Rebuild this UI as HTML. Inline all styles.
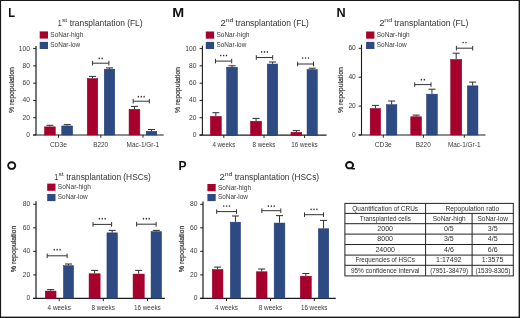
<!DOCTYPE html>
<html><head><meta charset="utf-8"><style>
html,body{margin:0;padding:0;background:#fff;}
svg{display:block;font-family:"Liberation Sans", sans-serif;}
.t{filter:grayscale(1);}
</style></head><body>
<svg width="520" height="318" viewBox="0 0 520 318">
<rect width="520" height="318" fill="#fff"/>
<line x1="36.0" y1="46.0" x2="36.0" y2="135.0" stroke="#1c1c1c" stroke-width="1.2"/>
<line x1="33.0" y1="135.0" x2="163.7" y2="135.0" stroke="#1c1c1c" stroke-width="1.2"/>
<line x1="33.2" y1="135.0" x2="36.0" y2="135.0" stroke="#1c1c1c" stroke-width="1.0"/>
<line x1="33.2" y1="117.72" x2="36.0" y2="117.72" stroke="#1c1c1c" stroke-width="1.0"/>
<line x1="33.2" y1="100.44" x2="36.0" y2="100.44" stroke="#1c1c1c" stroke-width="1.0"/>
<line x1="33.2" y1="83.16" x2="36.0" y2="83.16" stroke="#1c1c1c" stroke-width="1.0"/>
<line x1="33.2" y1="65.88" x2="36.0" y2="65.88" stroke="#1c1c1c" stroke-width="1.0"/>
<line x1="33.2" y1="48.6" x2="36.0" y2="48.6" stroke="#1c1c1c" stroke-width="1.0"/>
<rect x="44.45" y="126.85" width="10.90" height="8.15" fill="#A7002D" stroke="#930028" stroke-width="0.5"/>
<line x1="49.9" y1="125.3" x2="49.9" y2="126.6" stroke="#333" stroke-width="1.0"/>
<line x1="46.4" y1="125.3" x2="53.4" y2="125.3" stroke="#333" stroke-width="1.05"/>
<rect x="61.75" y="125.95" width="10.90" height="9.05" fill="#2D4A82" stroke="#1F3976" stroke-width="0.5"/>
<line x1="67.2" y1="124.6" x2="67.2" y2="125.7" stroke="#333" stroke-width="1.0"/>
<line x1="63.7" y1="124.6" x2="70.7" y2="124.6" stroke="#333" stroke-width="1.05"/>
<line x1="58.5" y1="135.0" x2="58.5" y2="137.7" stroke="#1c1c1c" stroke-width="1.0"/>
<rect x="87.25" y="78.55" width="10.50" height="56.45" fill="#A7002D" stroke="#930028" stroke-width="0.5"/>
<line x1="92.5" y1="76.4" x2="92.5" y2="78.3" stroke="#333" stroke-width="1.0"/>
<line x1="89.0" y1="76.4" x2="96.0" y2="76.4" stroke="#333" stroke-width="1.05"/>
<rect x="104.25" y="69.15" width="10.50" height="65.85" fill="#2D4A82" stroke="#1F3976" stroke-width="0.5"/>
<line x1="109.5" y1="67.9" x2="109.5" y2="68.9" stroke="#333" stroke-width="1.0"/>
<line x1="106.0" y1="67.9" x2="113.0" y2="67.9" stroke="#333" stroke-width="1.05"/>
<line x1="100.8" y1="135.0" x2="100.8" y2="137.7" stroke="#1c1c1c" stroke-width="1.0"/>
<line x1="92.6" y1="63.2" x2="108.9" y2="63.2" stroke="#333" stroke-width="1.0"/>
<line x1="92.6" y1="60.9" x2="92.6" y2="65.5" stroke="#333" stroke-width="1.0"/>
<line x1="108.9" y1="60.9" x2="108.9" y2="65.5" stroke="#333" stroke-width="1.0"/>
<ellipse cx="99.30" cy="58.40" rx="0.75" ry="0.85" fill="#333"/>
<ellipse cx="102.20" cy="58.40" rx="0.75" ry="0.85" fill="#333"/>
<rect x="129.05" y="109.25" width="10.80" height="25.75" fill="#A7002D" stroke="#930028" stroke-width="0.5"/>
<line x1="134.45" y1="106.4" x2="134.45" y2="109" stroke="#333" stroke-width="1.0"/>
<line x1="130.95" y1="106.4" x2="137.95" y2="106.4" stroke="#333" stroke-width="1.05"/>
<rect x="146.25" y="131.25" width="10.50" height="3.75" fill="#2D4A82" stroke="#1F3976" stroke-width="0.5"/>
<line x1="151.5" y1="129.5" x2="151.5" y2="131" stroke="#333" stroke-width="1.0"/>
<line x1="148.0" y1="129.5" x2="155.0" y2="129.5" stroke="#333" stroke-width="1.05"/>
<line x1="143" y1="135.0" x2="143" y2="137.7" stroke="#1c1c1c" stroke-width="1.0"/>
<line x1="133.2" y1="101.2" x2="149.3" y2="101.2" stroke="#333" stroke-width="1.0"/>
<line x1="133.2" y1="98.9" x2="133.2" y2="103.5" stroke="#333" stroke-width="1.0"/>
<line x1="149.3" y1="98.9" x2="149.3" y2="103.5" stroke="#333" stroke-width="1.0"/>
<ellipse cx="138.35" cy="96.70" rx="0.75" ry="0.85" fill="#333"/>
<ellipse cx="141.25" cy="96.70" rx="0.75" ry="0.85" fill="#333"/>
<ellipse cx="144.15" cy="96.70" rx="0.75" ry="0.85" fill="#333"/>
<rect x="39.7" y="31.4" width="8.3" height="7.2" fill="#A7002D"/>
<rect x="39.7" y="41.9" width="8.3" height="7.1" fill="#2D4A82"/>
<line x1="202.4" y1="45.8" x2="202.4" y2="135.2" stroke="#1c1c1c" stroke-width="1.1"/>
<line x1="199.5" y1="135.2" x2="326.6" y2="135.2" stroke="#1c1c1c" stroke-width="1.2"/>
<line x1="199.6" y1="135.0" x2="202.4" y2="135.0" stroke="#1c1c1c" stroke-width="1.0"/>
<line x1="199.6" y1="117.72" x2="202.4" y2="117.72" stroke="#1c1c1c" stroke-width="1.0"/>
<line x1="199.6" y1="100.44" x2="202.4" y2="100.44" stroke="#1c1c1c" stroke-width="1.0"/>
<line x1="199.6" y1="83.16" x2="202.4" y2="83.16" stroke="#1c1c1c" stroke-width="1.0"/>
<line x1="199.6" y1="65.88" x2="202.4" y2="65.88" stroke="#1c1c1c" stroke-width="1.0"/>
<line x1="199.6" y1="48.6" x2="202.4" y2="48.6" stroke="#1c1c1c" stroke-width="1.0"/>
<rect x="210.35" y="116.35" width="11.00" height="18.85" fill="#A7002D" stroke="#930028" stroke-width="0.5"/>
<line x1="215.85" y1="112.7" x2="215.85" y2="116.1" stroke="#333" stroke-width="1.0"/>
<line x1="212.35" y1="112.7" x2="219.35" y2="112.7" stroke="#333" stroke-width="1.05"/>
<rect x="226.65" y="67.25" width="10.80" height="67.95" fill="#2D4A82" stroke="#1F3976" stroke-width="0.5"/>
<line x1="232.05" y1="65.8" x2="232.05" y2="67" stroke="#333" stroke-width="1.0"/>
<line x1="228.55" y1="65.8" x2="235.55" y2="65.8" stroke="#333" stroke-width="1.05"/>
<line x1="223.8" y1="135.2" x2="223.8" y2="137.9" stroke="#1c1c1c" stroke-width="1.0"/>
<line x1="215.5" y1="61.1" x2="231.7" y2="61.1" stroke="#333" stroke-width="1.0"/>
<line x1="215.5" y1="58.8" x2="215.5" y2="63.4" stroke="#333" stroke-width="1.0"/>
<line x1="231.7" y1="58.8" x2="231.7" y2="63.4" stroke="#333" stroke-width="1.0"/>
<ellipse cx="220.70" cy="55.50" rx="0.75" ry="0.85" fill="#333"/>
<ellipse cx="223.60" cy="55.50" rx="0.75" ry="0.85" fill="#333"/>
<ellipse cx="226.50" cy="55.50" rx="0.75" ry="0.85" fill="#333"/>
<rect x="250.45" y="121.25" width="11.20" height="13.95" fill="#A7002D" stroke="#930028" stroke-width="0.5"/>
<line x1="256.05" y1="118.4" x2="256.05" y2="121.0" stroke="#333" stroke-width="1.0"/>
<line x1="252.55" y1="118.4" x2="259.55" y2="118.4" stroke="#333" stroke-width="1.05"/>
<rect x="267.25" y="64.05" width="10.50" height="71.15" fill="#2D4A82" stroke="#1F3976" stroke-width="0.5"/>
<line x1="272.5" y1="62" x2="272.5" y2="63.8" stroke="#333" stroke-width="1.0"/>
<line x1="269.0" y1="62" x2="276.0" y2="62" stroke="#333" stroke-width="1.05"/>
<line x1="264" y1="135.2" x2="264" y2="137.9" stroke="#1c1c1c" stroke-width="1.0"/>
<line x1="256.3" y1="57.5" x2="272.7" y2="57.5" stroke="#333" stroke-width="1.0"/>
<line x1="256.3" y1="55.2" x2="256.3" y2="59.8" stroke="#333" stroke-width="1.0"/>
<line x1="272.7" y1="55.2" x2="272.7" y2="59.8" stroke="#333" stroke-width="1.0"/>
<ellipse cx="261.60" cy="51.90" rx="0.75" ry="0.85" fill="#333"/>
<ellipse cx="264.50" cy="51.90" rx="0.75" ry="0.85" fill="#333"/>
<ellipse cx="267.40" cy="51.90" rx="0.75" ry="0.85" fill="#333"/>
<rect x="290.95" y="132.25" width="10.80" height="2.95" fill="#A7002D" stroke="#930028" stroke-width="0.5"/>
<line x1="296.35" y1="130.6" x2="296.35" y2="132" stroke="#333" stroke-width="1.0"/>
<line x1="292.85" y1="130.6" x2="299.85" y2="130.6" stroke="#333" stroke-width="1.05"/>
<rect x="307.05" y="69.55" width="10.30" height="65.65" fill="#2D4A82" stroke="#1F3976" stroke-width="0.5"/>
<line x1="312.2" y1="68.2" x2="312.2" y2="69.3" stroke="#333" stroke-width="1.0"/>
<line x1="308.7" y1="68.2" x2="315.7" y2="68.2" stroke="#333" stroke-width="1.05"/>
<line x1="304.6" y1="135.2" x2="304.6" y2="137.9" stroke="#1c1c1c" stroke-width="1.0"/>
<line x1="297.6" y1="64.0" x2="313.5" y2="64.0" stroke="#333" stroke-width="1.0"/>
<line x1="297.6" y1="61.7" x2="297.6" y2="66.3" stroke="#333" stroke-width="1.0"/>
<line x1="313.5" y1="61.7" x2="313.5" y2="66.3" stroke="#333" stroke-width="1.0"/>
<ellipse cx="302.65" cy="58.00" rx="0.75" ry="0.85" fill="#333"/>
<ellipse cx="305.55" cy="58.00" rx="0.75" ry="0.85" fill="#333"/>
<ellipse cx="308.45" cy="58.00" rx="0.75" ry="0.85" fill="#333"/>
<rect x="205.8" y="31.5" width="8.3" height="7.2" fill="#A7002D"/>
<rect x="205.8" y="41.9" width="8.3" height="7.1" fill="#2D4A82"/>
<line x1="361.5" y1="44.7" x2="361.5" y2="135.0" stroke="#1c1c1c" stroke-width="1.1"/>
<line x1="358.6" y1="135.0" x2="485.5" y2="135.0" stroke="#1c1c1c" stroke-width="1.2"/>
<line x1="358.7" y1="135.0" x2="361.5" y2="135.0" stroke="#1c1c1c" stroke-width="1.0"/>
<line x1="358.7" y1="106.1" x2="361.5" y2="106.1" stroke="#1c1c1c" stroke-width="1.0"/>
<line x1="358.7" y1="77.2" x2="361.5" y2="77.2" stroke="#1c1c1c" stroke-width="1.0"/>
<line x1="358.7" y1="48.3" x2="361.5" y2="48.3" stroke="#1c1c1c" stroke-width="1.0"/>
<rect x="370.15" y="108.45" width="10.50" height="26.55" fill="#A7002D" stroke="#930028" stroke-width="0.5"/>
<line x1="375.4" y1="105.4" x2="375.4" y2="108.2" stroke="#333" stroke-width="1.0"/>
<line x1="371.9" y1="105.4" x2="378.9" y2="105.4" stroke="#333" stroke-width="1.05"/>
<rect x="386.45" y="104.65" width="10.40" height="30.35" fill="#2D4A82" stroke="#1F3976" stroke-width="0.5"/>
<line x1="391.65" y1="101.0" x2="391.65" y2="104.4" stroke="#333" stroke-width="1.0"/>
<line x1="388.15" y1="101.0" x2="395.15" y2="101.0" stroke="#333" stroke-width="1.05"/>
<line x1="383.3" y1="135.0" x2="383.3" y2="137.7" stroke="#1c1c1c" stroke-width="1.0"/>
<rect x="410.75" y="116.75" width="10.80" height="18.25" fill="#A7002D" stroke="#930028" stroke-width="0.5"/>
<line x1="416.15" y1="115.1" x2="416.15" y2="116.5" stroke="#333" stroke-width="1.0"/>
<line x1="412.65" y1="115.1" x2="419.65" y2="115.1" stroke="#333" stroke-width="1.05"/>
<rect x="426.55" y="94.15" width="10.80" height="40.85" fill="#2D4A82" stroke="#1F3976" stroke-width="0.5"/>
<line x1="431.95" y1="89.2" x2="431.95" y2="93.9" stroke="#333" stroke-width="1.0"/>
<line x1="428.45" y1="89.2" x2="435.45" y2="89.2" stroke="#333" stroke-width="1.05"/>
<line x1="423.4" y1="135.0" x2="423.4" y2="137.7" stroke="#1c1c1c" stroke-width="1.0"/>
<line x1="414.7" y1="84.6" x2="431" y2="84.6" stroke="#333" stroke-width="1.0"/>
<line x1="414.7" y1="82.3" x2="414.7" y2="86.9" stroke="#333" stroke-width="1.0"/>
<line x1="431" y1="82.3" x2="431" y2="86.9" stroke="#333" stroke-width="1.0"/>
<ellipse cx="421.40" cy="79.70" rx="0.75" ry="0.85" fill="#333"/>
<ellipse cx="424.30" cy="79.70" rx="0.75" ry="0.85" fill="#333"/>
<rect x="450.65" y="59.45" width="11.10" height="75.55" fill="#A7002D" stroke="#930028" stroke-width="0.5"/>
<line x1="456.2" y1="53.2" x2="456.2" y2="59.2" stroke="#333" stroke-width="1.0"/>
<line x1="452.7" y1="53.2" x2="459.7" y2="53.2" stroke="#333" stroke-width="1.05"/>
<rect x="467.35" y="85.85" width="10.60" height="49.15" fill="#2D4A82" stroke="#1F3976" stroke-width="0.5"/>
<line x1="472.65" y1="82.1" x2="472.65" y2="85.6" stroke="#333" stroke-width="1.0"/>
<line x1="469.15" y1="82.1" x2="476.15" y2="82.1" stroke="#333" stroke-width="1.05"/>
<line x1="464.3" y1="135.0" x2="464.3" y2="137.7" stroke="#1c1c1c" stroke-width="1.0"/>
<line x1="456.4" y1="48.2" x2="472.7" y2="48.2" stroke="#333" stroke-width="1.0"/>
<line x1="456.4" y1="45.9" x2="456.4" y2="50.5" stroke="#333" stroke-width="1.0"/>
<line x1="472.7" y1="45.9" x2="472.7" y2="50.5" stroke="#333" stroke-width="1.0"/>
<ellipse cx="463.10" cy="42.50" rx="0.75" ry="0.85" fill="#333"/>
<ellipse cx="466.00" cy="42.50" rx="0.75" ry="0.85" fill="#333"/>
<rect x="366.1" y="31.5" width="8.3" height="7.2" fill="#A7002D"/>
<rect x="366.1" y="41.9" width="8.3" height="7.1" fill="#2D4A82"/>
<line x1="36.0" y1="201.2" x2="36.0" y2="298.4" stroke="#1c1c1c" stroke-width="1.2"/>
<line x1="33.0" y1="298.4" x2="164.9" y2="298.4" stroke="#1c1c1c" stroke-width="1.2"/>
<line x1="33.2" y1="298.4" x2="36.0" y2="298.4" stroke="#1c1c1c" stroke-width="1.0"/>
<line x1="33.2" y1="274.88" x2="36.0" y2="274.88" stroke="#1c1c1c" stroke-width="1.0"/>
<line x1="33.2" y1="251.36" x2="36.0" y2="251.36" stroke="#1c1c1c" stroke-width="1.0"/>
<line x1="33.2" y1="227.84" x2="36.0" y2="227.84" stroke="#1c1c1c" stroke-width="1.0"/>
<line x1="33.2" y1="204.32" x2="36.0" y2="204.32" stroke="#1c1c1c" stroke-width="1.0"/>
<rect x="45.25" y="291.05" width="10.80" height="7.35" fill="#A7002D" stroke="#930028" stroke-width="0.5"/>
<line x1="50.65" y1="289.6" x2="50.65" y2="290.8" stroke="#333" stroke-width="1.0"/>
<line x1="47.15" y1="289.6" x2="54.15" y2="289.6" stroke="#333" stroke-width="1.05"/>
<rect x="63.45" y="265.65" width="10.10" height="32.75" fill="#2D4A82" stroke="#1F3976" stroke-width="0.5"/>
<line x1="68.5" y1="264" x2="68.5" y2="265.4" stroke="#333" stroke-width="1.0"/>
<line x1="65.0" y1="264" x2="72.0" y2="264" stroke="#333" stroke-width="1.05"/>
<line x1="59.2" y1="298.4" x2="59.2" y2="301.1" stroke="#1c1c1c" stroke-width="1.0"/>
<line x1="47.2" y1="255.8" x2="67.1" y2="255.8" stroke="#333" stroke-width="1.0"/>
<line x1="47.2" y1="253.5" x2="47.2" y2="258.1" stroke="#333" stroke-width="1.0"/>
<line x1="67.1" y1="253.5" x2="67.1" y2="258.1" stroke="#333" stroke-width="1.0"/>
<ellipse cx="54.25" cy="249.70" rx="0.75" ry="0.85" fill="#333"/>
<ellipse cx="57.15" cy="249.70" rx="0.75" ry="0.85" fill="#333"/>
<ellipse cx="60.05" cy="249.70" rx="0.75" ry="0.85" fill="#333"/>
<rect x="89.05" y="273.75" width="11.10" height="24.65" fill="#A7002D" stroke="#930028" stroke-width="0.5"/>
<line x1="94.6" y1="270.4" x2="94.6" y2="273.5" stroke="#333" stroke-width="1.0"/>
<line x1="91.1" y1="270.4" x2="98.1" y2="270.4" stroke="#333" stroke-width="1.05"/>
<rect x="106.95" y="232.85" width="10.50" height="65.55" fill="#2D4A82" stroke="#1F3976" stroke-width="0.5"/>
<line x1="112.2" y1="230.4" x2="112.2" y2="232.6" stroke="#333" stroke-width="1.0"/>
<line x1="108.7" y1="230.4" x2="115.7" y2="230.4" stroke="#333" stroke-width="1.05"/>
<line x1="103.3" y1="298.4" x2="103.3" y2="301.1" stroke="#1c1c1c" stroke-width="1.0"/>
<line x1="93.0" y1="224.4" x2="111.6" y2="224.4" stroke="#333" stroke-width="1.0"/>
<line x1="93.0" y1="222.1" x2="93.0" y2="226.7" stroke="#333" stroke-width="1.0"/>
<line x1="111.6" y1="222.1" x2="111.6" y2="226.7" stroke="#333" stroke-width="1.0"/>
<ellipse cx="99.40" cy="218.70" rx="0.75" ry="0.85" fill="#333"/>
<ellipse cx="102.30" cy="218.70" rx="0.75" ry="0.85" fill="#333"/>
<ellipse cx="105.20" cy="218.70" rx="0.75" ry="0.85" fill="#333"/>
<rect x="133.05" y="274.05" width="11.20" height="24.35" fill="#A7002D" stroke="#930028" stroke-width="0.5"/>
<line x1="138.65" y1="270.4" x2="138.65" y2="273.8" stroke="#333" stroke-width="1.0"/>
<line x1="135.15" y1="270.4" x2="142.15" y2="270.4" stroke="#333" stroke-width="1.05"/>
<rect x="151.05" y="231.65" width="10.50" height="66.75" fill="#2D4A82" stroke="#1F3976" stroke-width="0.5"/>
<line x1="156.3" y1="230.4" x2="156.3" y2="231.4" stroke="#333" stroke-width="1.0"/>
<line x1="152.8" y1="230.4" x2="159.8" y2="230.4" stroke="#333" stroke-width="1.05"/>
<line x1="147.5" y1="298.4" x2="147.5" y2="301.1" stroke="#1c1c1c" stroke-width="1.0"/>
<line x1="136.6" y1="224.2" x2="156.1" y2="224.2" stroke="#333" stroke-width="1.0"/>
<line x1="136.6" y1="221.9" x2="136.6" y2="226.5" stroke="#333" stroke-width="1.0"/>
<line x1="156.1" y1="221.9" x2="156.1" y2="226.5" stroke="#333" stroke-width="1.0"/>
<ellipse cx="143.45" cy="218.70" rx="0.75" ry="0.85" fill="#333"/>
<ellipse cx="146.35" cy="218.70" rx="0.75" ry="0.85" fill="#333"/>
<ellipse cx="149.25" cy="218.70" rx="0.75" ry="0.85" fill="#333"/>
<rect x="47.2" y="183.6" width="8.3" height="7.2" fill="#A7002D"/>
<rect x="47.2" y="194.0" width="8.3" height="7.1" fill="#2D4A82"/>
<ellipse cx="11.7" cy="165.6" rx="3.55" ry="3.3" fill="none" stroke="#111" stroke-width="1.9"/>
<line x1="203.0" y1="201.4" x2="203.0" y2="298.3" stroke="#1c1c1c" stroke-width="1.2"/>
<line x1="199.9" y1="298.3" x2="335.8" y2="298.3" stroke="#1c1c1c" stroke-width="1.2"/>
<line x1="200.2" y1="298.4" x2="203.0" y2="298.4" stroke="#1c1c1c" stroke-width="1.0"/>
<line x1="200.2" y1="274.88" x2="203.0" y2="274.88" stroke="#1c1c1c" stroke-width="1.0"/>
<line x1="200.2" y1="251.36" x2="203.0" y2="251.36" stroke="#1c1c1c" stroke-width="1.0"/>
<line x1="200.2" y1="227.84" x2="203.0" y2="227.84" stroke="#1c1c1c" stroke-width="1.0"/>
<line x1="200.2" y1="204.32" x2="203.0" y2="204.32" stroke="#1c1c1c" stroke-width="1.0"/>
<rect x="212.25" y="269.45" width="10.70" height="28.85" fill="#A7002D" stroke="#930028" stroke-width="0.5"/>
<line x1="217.6" y1="267.1" x2="217.6" y2="269.2" stroke="#333" stroke-width="1.0"/>
<line x1="214.1" y1="267.1" x2="221.1" y2="267.1" stroke="#333" stroke-width="1.05"/>
<rect x="230.35" y="222.15" width="10.20" height="76.15" fill="#2D4A82" stroke="#1F3976" stroke-width="0.5"/>
<line x1="235.45" y1="216" x2="235.45" y2="221.9" stroke="#333" stroke-width="1.0"/>
<line x1="231.95" y1="216" x2="238.95" y2="216" stroke="#333" stroke-width="1.05"/>
<line x1="226.5" y1="298.3" x2="226.5" y2="301.0" stroke="#1c1c1c" stroke-width="1.0"/>
<line x1="216.7" y1="211.6" x2="236.5" y2="211.6" stroke="#333" stroke-width="1.0"/>
<line x1="216.7" y1="209.3" x2="216.7" y2="213.9" stroke="#333" stroke-width="1.0"/>
<line x1="236.5" y1="209.3" x2="236.5" y2="213.9" stroke="#333" stroke-width="1.0"/>
<ellipse cx="223.70" cy="206.00" rx="0.75" ry="0.85" fill="#333"/>
<ellipse cx="226.60" cy="206.00" rx="0.75" ry="0.85" fill="#333"/>
<ellipse cx="229.50" cy="206.00" rx="0.75" ry="0.85" fill="#333"/>
<rect x="256.35" y="271.75" width="10.70" height="26.55" fill="#A7002D" stroke="#930028" stroke-width="0.5"/>
<line x1="261.7" y1="269" x2="261.7" y2="271.5" stroke="#333" stroke-width="1.0"/>
<line x1="258.2" y1="269" x2="265.2" y2="269" stroke="#333" stroke-width="1.05"/>
<rect x="274.15" y="223.05" width="10.70" height="75.25" fill="#2D4A82" stroke="#1F3976" stroke-width="0.5"/>
<line x1="279.5" y1="215.6" x2="279.5" y2="222.8" stroke="#333" stroke-width="1.0"/>
<line x1="276.0" y1="215.6" x2="283.0" y2="215.6" stroke="#333" stroke-width="1.05"/>
<line x1="270.5" y1="298.3" x2="270.5" y2="301.0" stroke="#1c1c1c" stroke-width="1.0"/>
<line x1="261.8" y1="210.7" x2="280.8" y2="210.7" stroke="#333" stroke-width="1.0"/>
<line x1="261.8" y1="208.4" x2="261.8" y2="213.0" stroke="#333" stroke-width="1.0"/>
<line x1="280.8" y1="208.4" x2="280.8" y2="213.0" stroke="#333" stroke-width="1.0"/>
<ellipse cx="268.40" cy="206.10" rx="0.75" ry="0.85" fill="#333"/>
<ellipse cx="271.30" cy="206.10" rx="0.75" ry="0.85" fill="#333"/>
<ellipse cx="274.20" cy="206.10" rx="0.75" ry="0.85" fill="#333"/>
<rect x="300.25" y="276.15" width="11.10" height="22.15" fill="#A7002D" stroke="#930028" stroke-width="0.5"/>
<line x1="305.8" y1="273.5" x2="305.8" y2="275.9" stroke="#333" stroke-width="1.0"/>
<line x1="302.3" y1="273.5" x2="309.3" y2="273.5" stroke="#333" stroke-width="1.05"/>
<rect x="318.35" y="228.75" width="10.40" height="69.55" fill="#2D4A82" stroke="#1F3976" stroke-width="0.5"/>
<line x1="323.55" y1="220.4" x2="323.55" y2="228.5" stroke="#333" stroke-width="1.0"/>
<line x1="320.05" y1="220.4" x2="327.05" y2="220.4" stroke="#333" stroke-width="1.05"/>
<line x1="314.3" y1="298.3" x2="314.3" y2="301.0" stroke="#1c1c1c" stroke-width="1.0"/>
<line x1="304.5" y1="214.7" x2="323.5" y2="214.7" stroke="#333" stroke-width="1.0"/>
<line x1="304.5" y1="212.4" x2="304.5" y2="217.0" stroke="#333" stroke-width="1.0"/>
<line x1="323.5" y1="212.4" x2="323.5" y2="217.0" stroke="#333" stroke-width="1.0"/>
<ellipse cx="311.10" cy="209.30" rx="0.75" ry="0.85" fill="#333"/>
<ellipse cx="314.00" cy="209.30" rx="0.75" ry="0.85" fill="#333"/>
<ellipse cx="316.90" cy="209.30" rx="0.75" ry="0.85" fill="#333"/>
<rect x="207.4" y="184.0" width="8.3" height="7.2" fill="#A7002D"/>
<rect x="207.4" y="194.0" width="8.3" height="7.1" fill="#2D4A82"/>
<rect x="344.9" y="203.4" width="168.40" height="72.50" fill="none" stroke="#222" stroke-width="1.0"/>
<line x1="344.9" y1="213.4" x2="513.3" y2="213.4" stroke="#222" stroke-width="1.0"/>
<line x1="344.9" y1="223.7" x2="513.3" y2="223.7" stroke="#222" stroke-width="1.0"/>
<line x1="344.9" y1="234.1" x2="513.3" y2="234.1" stroke="#222" stroke-width="1.0"/>
<line x1="344.9" y1="244.5" x2="513.3" y2="244.5" stroke="#222" stroke-width="1.0"/>
<line x1="344.9" y1="255.1" x2="513.3" y2="255.1" stroke="#222" stroke-width="1.0"/>
<line x1="344.9" y1="265.3" x2="513.3" y2="265.3" stroke="#222" stroke-width="1.0"/>
<line x1="425.6" y1="203.4" x2="425.6" y2="275.9" stroke="#222" stroke-width="1.0"/>
<line x1="472.1" y1="213.4" x2="472.1" y2="275.9" stroke="#222" stroke-width="1.0"/>
<ellipse cx="349.55" cy="165.2" rx="3.5" ry="3.2" fill="none" stroke="#111" stroke-width="1.9"/>
<path d="M351.6 168.7 L355 168.8" stroke="#111" stroke-width="1.4"/>
<rect x="0" y="0" width="1.1" height="318" fill="#1a1a1a"/>
<rect x="0" y="0" width="520" height="1" fill="#1a1a1a"/>
<rect x="518.6" y="0" width="1.4" height="318" fill="#1a1a1a"/>
<rect x="0" y="316.6" width="520" height="1.4" fill="#1a1a1a"/>
<g class="t"><text x="26.32" y="136.9" font-size="6.7" fill="#3a3a3a" textLength="3.73" lengthAdjust="spacingAndGlyphs">0</text>
<text x="22.60" y="119.62" font-size="6.7" fill="#3a3a3a" textLength="7.45" lengthAdjust="spacingAndGlyphs">20</text>
<text x="22.60" y="102.34" font-size="6.7" fill="#3a3a3a" textLength="7.45" lengthAdjust="spacingAndGlyphs">40</text>
<text x="22.60" y="85.06" font-size="6.7" fill="#3a3a3a" textLength="7.45" lengthAdjust="spacingAndGlyphs">60</text>
<text x="22.60" y="67.78" font-size="6.7" fill="#3a3a3a" textLength="7.45" lengthAdjust="spacingAndGlyphs">80</text>
<text x="18.88" y="50.5" font-size="6.7" fill="#3a3a3a" textLength="11.18" lengthAdjust="spacingAndGlyphs">100</text>
<text x="49.97" y="146.8" font-size="6.8" fill="#3a3a3a" textLength="17.04" lengthAdjust="spacingAndGlyphs">CD3e</text>
<text x="93.19" y="146.8" font-size="6.8" fill="#3a3a3a" textLength="14.94" lengthAdjust="spacingAndGlyphs">B220</text>
<text x="126.58" y="146.8" font-size="6.8" fill="#3a3a3a" textLength="32.61" lengthAdjust="spacingAndGlyphs">Mac-1/Gr-1</text>
<text transform="translate(13.5,113.04) rotate(-90)" x="0" y="0" font-size="6.9" fill="#222" stroke="#333" stroke-width="0.18" textLength="46.00" lengthAdjust="spacingAndGlyphs">% repopulation</text>
<text x="50.31" y="37.1" font-size="6.6" fill="#3a3a3a" textLength="33.04" lengthAdjust="spacingAndGlyphs">SoNar-high</text>
<text x="50.31" y="47.2" font-size="6.6" fill="#3a3a3a" textLength="29.88" lengthAdjust="spacingAndGlyphs">SoNar-low</text>
<text x="57.67" y="26.3" font-size="8.4" fill="#333" textLength="3.96" lengthAdjust="spacingAndGlyphs">1</text>
<text x="61.90" y="22.3" font-size="5.2" fill="#333" textLength="5.26" lengthAdjust="spacingAndGlyphs">st</text>
<text x="69.67" y="26.3" font-size="8.4" fill="#333" textLength="72.94" lengthAdjust="spacingAndGlyphs">transplantation (FL)</text>
<text x="8.27" y="16.9" font-size="12.4" fill="#111" textLength="6.88" lengthAdjust="spacingAndGlyphs" font-weight="bold">L</text>
<text x="192.72" y="136.9" font-size="6.7" fill="#3a3a3a" textLength="3.73" lengthAdjust="spacingAndGlyphs">0</text>
<text x="189.00" y="119.62" font-size="6.7" fill="#3a3a3a" textLength="7.45" lengthAdjust="spacingAndGlyphs">20</text>
<text x="189.00" y="102.34" font-size="6.7" fill="#3a3a3a" textLength="7.45" lengthAdjust="spacingAndGlyphs">40</text>
<text x="189.00" y="85.06" font-size="6.7" fill="#3a3a3a" textLength="7.45" lengthAdjust="spacingAndGlyphs">60</text>
<text x="189.00" y="67.78" font-size="6.7" fill="#3a3a3a" textLength="7.45" lengthAdjust="spacingAndGlyphs">80</text>
<text x="185.28" y="50.5" font-size="6.7" fill="#3a3a3a" textLength="11.18" lengthAdjust="spacingAndGlyphs">100</text>
<text x="212.43" y="146.8" font-size="6.8" fill="#3a3a3a" textLength="22.83" lengthAdjust="spacingAndGlyphs">4 weeks</text>
<text x="252.47" y="146.8" font-size="6.8" fill="#3a3a3a" textLength="22.99" lengthAdjust="spacingAndGlyphs">8 weeks</text>
<text x="291.33" y="146.8" font-size="6.8" fill="#3a3a3a" textLength="26.28" lengthAdjust="spacingAndGlyphs">16 weeks</text>
<text transform="translate(179.6,113.04) rotate(-90)" x="0" y="0" font-size="6.9" fill="#222" stroke="#333" stroke-width="0.18" textLength="46.00" lengthAdjust="spacingAndGlyphs">% repopulation</text>
<text x="216.41" y="37.2" font-size="6.6" fill="#3a3a3a" textLength="33.04" lengthAdjust="spacingAndGlyphs">SoNar-high</text>
<text x="216.41" y="47.2" font-size="6.6" fill="#3a3a3a" textLength="29.88" lengthAdjust="spacingAndGlyphs">SoNar-low</text>
<text x="220.52" y="26.3" font-size="8.4" fill="#333" textLength="5.38" lengthAdjust="spacingAndGlyphs">2</text>
<text x="225.43" y="22.3" font-size="5.2" fill="#333" textLength="8.06" lengthAdjust="spacingAndGlyphs">nd</text>
<text x="235.57" y="26.3" font-size="8.4" fill="#333" textLength="73.24" lengthAdjust="spacingAndGlyphs">transplantation (FL)</text>
<text x="172.17" y="16.6" font-size="12.4" fill="#111" textLength="11.90" lengthAdjust="spacingAndGlyphs" font-weight="bold">M</text>
<text x="352.12" y="136.9" font-size="6.7" fill="#3a3a3a" textLength="3.73" lengthAdjust="spacingAndGlyphs">0</text>
<text x="348.40" y="108.0" font-size="6.7" fill="#3a3a3a" textLength="7.45" lengthAdjust="spacingAndGlyphs">20</text>
<text x="348.40" y="79.1" font-size="6.7" fill="#3a3a3a" textLength="7.45" lengthAdjust="spacingAndGlyphs">40</text>
<text x="348.40" y="50.2" font-size="6.7" fill="#3a3a3a" textLength="7.45" lengthAdjust="spacingAndGlyphs">60</text>
<text x="374.77" y="146.8" font-size="6.8" fill="#3a3a3a" textLength="17.04" lengthAdjust="spacingAndGlyphs">CD3e</text>
<text x="415.79" y="146.8" font-size="6.8" fill="#3a3a3a" textLength="14.94" lengthAdjust="spacingAndGlyphs">B220</text>
<text x="447.88" y="146.8" font-size="6.8" fill="#3a3a3a" textLength="32.61" lengthAdjust="spacingAndGlyphs">Mac-1/Gr-1</text>
<text transform="translate(342.7,113.04) rotate(-90)" x="0" y="0" font-size="6.9" fill="#222" stroke="#333" stroke-width="0.18" textLength="46.00" lengthAdjust="spacingAndGlyphs">% repopulation</text>
<text x="376.71" y="37.2" font-size="6.6" fill="#3a3a3a" textLength="33.04" lengthAdjust="spacingAndGlyphs">SoNar-high</text>
<text x="376.71" y="47.2" font-size="6.6" fill="#3a3a3a" textLength="29.88" lengthAdjust="spacingAndGlyphs">SoNar-low</text>
<text x="379.32" y="26.3" font-size="8.4" fill="#333" textLength="5.38" lengthAdjust="spacingAndGlyphs">2</text>
<text x="384.23" y="22.3" font-size="5.2" fill="#333" textLength="8.06" lengthAdjust="spacingAndGlyphs">nd</text>
<text x="394.37" y="26.3" font-size="8.4" fill="#333" textLength="74.05" lengthAdjust="spacingAndGlyphs">transplantation (FL)</text>
<text x="336.47" y="17.0" font-size="12.4" fill="#111" textLength="9.18" lengthAdjust="spacingAndGlyphs" font-weight="bold">N</text>
<text x="26.52" y="300.3" font-size="6.7" fill="#3a3a3a" textLength="3.73" lengthAdjust="spacingAndGlyphs">0</text>
<text x="22.80" y="276.78" font-size="6.7" fill="#3a3a3a" textLength="7.45" lengthAdjust="spacingAndGlyphs">20</text>
<text x="22.80" y="253.26" font-size="6.7" fill="#3a3a3a" textLength="7.45" lengthAdjust="spacingAndGlyphs">40</text>
<text x="22.80" y="229.74" font-size="6.7" fill="#3a3a3a" textLength="7.45" lengthAdjust="spacingAndGlyphs">60</text>
<text x="22.80" y="206.22" font-size="6.7" fill="#3a3a3a" textLength="7.45" lengthAdjust="spacingAndGlyphs">80</text>
<text x="47.62" y="309.8" font-size="6.8" fill="#3a3a3a" textLength="23.24" lengthAdjust="spacingAndGlyphs">4 weeks</text>
<text x="91.51" y="309.8" font-size="6.8" fill="#3a3a3a" textLength="23.50" lengthAdjust="spacingAndGlyphs">8 weeks</text>
<text x="133.92" y="309.8" font-size="6.8" fill="#3a3a3a" textLength="26.90" lengthAdjust="spacingAndGlyphs">16 weeks</text>
<text transform="translate(16.2,272.24) rotate(-90)" x="0" y="0" font-size="6.9" fill="#222" stroke="#333" stroke-width="0.18" textLength="46.61" lengthAdjust="spacingAndGlyphs">% repopulation</text>
<text x="57.81" y="189.3" font-size="6.6" fill="#3a3a3a" textLength="33.04" lengthAdjust="spacingAndGlyphs">SoNar-high</text>
<text x="57.81" y="199.3" font-size="6.6" fill="#3a3a3a" textLength="29.88" lengthAdjust="spacingAndGlyphs">SoNar-low</text>
<text x="54.27" y="179.9" font-size="8.4" fill="#333" textLength="3.96" lengthAdjust="spacingAndGlyphs">1</text>
<text x="58.50" y="175.9" font-size="5.2" fill="#333" textLength="5.26" lengthAdjust="spacingAndGlyphs">st</text>
<text x="66.27" y="179.9" font-size="8.4" fill="#333" textLength="84.43" lengthAdjust="spacingAndGlyphs">transplantation (HSCs)</text>
<text x="193.72" y="300.3" font-size="6.7" fill="#3a3a3a" textLength="3.73" lengthAdjust="spacingAndGlyphs">0</text>
<text x="190.00" y="276.78" font-size="6.7" fill="#3a3a3a" textLength="7.45" lengthAdjust="spacingAndGlyphs">20</text>
<text x="190.00" y="253.26" font-size="6.7" fill="#3a3a3a" textLength="7.45" lengthAdjust="spacingAndGlyphs">40</text>
<text x="190.00" y="229.74" font-size="6.7" fill="#3a3a3a" textLength="7.45" lengthAdjust="spacingAndGlyphs">60</text>
<text x="190.00" y="206.22" font-size="6.7" fill="#3a3a3a" textLength="7.45" lengthAdjust="spacingAndGlyphs">80</text>
<text x="215.07" y="309.8" font-size="6.8" fill="#3a3a3a" textLength="22.93" lengthAdjust="spacingAndGlyphs">4 weeks</text>
<text x="258.71" y="309.8" font-size="6.8" fill="#3a3a3a" textLength="23.50" lengthAdjust="spacingAndGlyphs">8 weeks</text>
<text x="300.88" y="309.8" font-size="6.8" fill="#3a3a3a" textLength="26.59" lengthAdjust="spacingAndGlyphs">16 weeks</text>
<text transform="translate(183.5,272.24) rotate(-90)" x="0" y="0" font-size="6.9" fill="#222" stroke="#333" stroke-width="0.18" textLength="46.61" lengthAdjust="spacingAndGlyphs">% repopulation</text>
<text x="218.01" y="189.7" font-size="6.6" fill="#3a3a3a" textLength="33.04" lengthAdjust="spacingAndGlyphs">SoNar-high</text>
<text x="218.01" y="199.3" font-size="6.6" fill="#3a3a3a" textLength="29.88" lengthAdjust="spacingAndGlyphs">SoNar-low</text>
<text x="219.62" y="179.9" font-size="8.4" fill="#333" textLength="5.38" lengthAdjust="spacingAndGlyphs">2</text>
<text x="224.53" y="175.9" font-size="5.2" fill="#333" textLength="8.06" lengthAdjust="spacingAndGlyphs">nd</text>
<text x="234.67" y="179.9" font-size="8.4" fill="#333" textLength="84.43" lengthAdjust="spacingAndGlyphs">transplantation (HSCs)</text>
<text x="178.42" y="169.6" font-size="12.4" fill="#111" textLength="7.96" lengthAdjust="spacingAndGlyphs" font-weight="bold">P</text>
<text x="352.31" y="210.7" font-size="6.7" fill="#2e2e2e" textLength="65.82" lengthAdjust="spacingAndGlyphs">Quantification of CRUs</text>
<text x="445.47" y="210.7" font-size="6.7" fill="#2e2e2e" textLength="53.61" lengthAdjust="spacingAndGlyphs">Repopulation ratio</text>
<text x="359.77" y="220.7" font-size="6.7" fill="#2e2e2e" textLength="51.04" lengthAdjust="spacingAndGlyphs">Transplanted cells</text>
<text x="432.71" y="220.7" font-size="6.7" fill="#2e2e2e" textLength="32.94" lengthAdjust="spacingAndGlyphs">SoNar-high</text>
<text x="477.41" y="220.7" font-size="6.7" fill="#2e2e2e" textLength="30.48" lengthAdjust="spacingAndGlyphs">SoNar-low</text>
<text x="377.37" y="231.0" font-size="6.7" fill="#2e2e2e" textLength="15.65" lengthAdjust="spacingAndGlyphs">2000</text>
<text x="443.96" y="231.0" font-size="6.7" fill="#2e2e2e" textLength="9.78" lengthAdjust="spacingAndGlyphs">0/5</text>
<text x="487.81" y="231.0" font-size="6.7" fill="#2e2e2e" textLength="9.78" lengthAdjust="spacingAndGlyphs">3/5</text>
<text x="377.39" y="241.4" font-size="6.7" fill="#2e2e2e" textLength="15.65" lengthAdjust="spacingAndGlyphs">8000</text>
<text x="443.96" y="241.4" font-size="6.7" fill="#2e2e2e" textLength="9.78" lengthAdjust="spacingAndGlyphs">3/5</text>
<text x="487.88" y="241.4" font-size="6.7" fill="#2e2e2e" textLength="9.78" lengthAdjust="spacingAndGlyphs">4/5</text>
<text x="375.42" y="251.8" font-size="6.7" fill="#2e2e2e" textLength="19.56" lengthAdjust="spacingAndGlyphs">24000</text>
<text x="444.03" y="251.8" font-size="6.7" fill="#2e2e2e" textLength="9.78" lengthAdjust="spacingAndGlyphs">4/6</text>
<text x="487.78" y="251.8" font-size="6.7" fill="#2e2e2e" textLength="9.78" lengthAdjust="spacingAndGlyphs">6/6</text>
<text x="355.40" y="262.4" font-size="6.7" fill="#2e2e2e" textLength="59.51" lengthAdjust="spacingAndGlyphs">Frequencies of HSCs</text>
<text x="436.05" y="262.4" font-size="6.7" fill="#2e2e2e" textLength="25.43" lengthAdjust="spacingAndGlyphs">1:17492</text>
<text x="481.81" y="262.4" font-size="6.7" fill="#2e2e2e" textLength="21.52" lengthAdjust="spacingAndGlyphs">1:3575</text>
<text x="350.91" y="272.6" font-size="6.7" fill="#2e2e2e" textLength="68.63" lengthAdjust="spacingAndGlyphs">95% confidence interval</text>
<text x="430.22" y="272.6" font-size="6.7" fill="#2e2e2e" textLength="37.89" lengthAdjust="spacingAndGlyphs">(7951-38479)</text>
<text x="475.41" y="272.6" font-size="6.7" fill="#2e2e2e" textLength="34.99" lengthAdjust="spacingAndGlyphs">(1539-8305)</text></g>
</svg>
</body></html>
